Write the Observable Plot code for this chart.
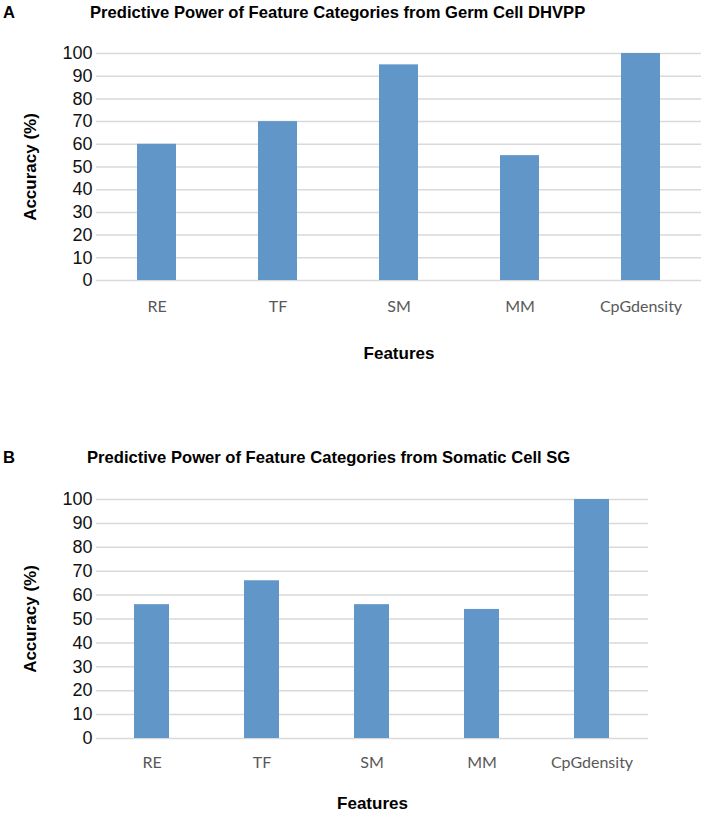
<!DOCTYPE html>
<html>
<head>
<meta charset="utf-8">
<script src="https://cdn.jsdelivr.net/npm/d3@7"></script>
<script src="https://cdn.jsdelivr.net/npm/@observablehq/plot@0.6"></script>
<style>
  html, body { margin: 0; padding: 0; background: #fff; }
  #root { position: relative; width: 701px; height: 814px; overflow: hidden; font-family: "Liberation Sans", Arial, sans-serif; background: #fff; }
  .panel { position: absolute; left: 0; z-index: 1; }
  .title { position: absolute; z-index: 2; font-weight: bold; font-size: 16.6px; line-height: 20px; color: #000; white-space: nowrap; }
</style>
</head>
<body>
<div id="root">
  <div id="panelA" class="panel" style="top:0px;"></div>
  <div id="panelB" class="panel" style="top:420px;"></div>
  <div class="title" style="left:3px;top:3px;">A</div>
  <div class="title" style="left:90px;top:3px;">Predictive Power of Feature Categories from Germ Cell DHVPP</div>
  <div class="title" style="left:3px;top:448px;">B</div>
  <div class="title" style="left:87px;top:448px;">Predictive Power of Feature Categories from Somatic Cell SG</div>
</div>
<script>
const features = ["RE", "TF", "SM", "MM", "CpGdensity"];
const accuracyA = [60, 70, 95, 55, 100];
const accuracyB = [56, 66, 56, 54, 100];
const yTicks = [0, 10, 20, 30, 40, 50, 60, 70, 80, 90, 100];
const xLabel = "Features";
const yLabel = "Accuracy (%)";

function panel(values, opts) {
  const data = features.map((f, i) => ({feature: f, value: values[i]}));
  return Plot.plot({
    width: 701,
    height: opts.height,
    marginTop: opts.marginTop,
    marginBottom: opts.marginBottom,
    marginLeft: 96,
    marginRight: opts.marginRight,
    style: {fontFamily: "'Liberation Sans', Arial, sans-serif", background: "transparent", overflow: "visible"},
    x: {domain: features, paddingInner: 0.68, paddingOuter: 0.34},
    y: {domain: [0, 100]},
    marks: [
      Plot.ruleY(yTicks, {stroke: "#d9d9d9", strokeWidth: 1.5}),
      Plot.barY(data, {x: "feature", y: "value", fill: "#6196c9"}),
      Plot.axisY({ticks: yTicks, tickSize: 0, tickPadding: 4, fontSize: 18, fill: "#111",
        label: yLabel, labelArrow: "none", labelAnchor: "center", labelOffset: 73}),
      Plot.axisX({tickSize: 0, tickPadding: opts.tickPad, fontSize: 16, fill: "#595959",
        fontFamily: "Lato, 'Open Sans', sans-serif",
        label: xLabel, labelArrow: "none", labelAnchor: "center", labelOffset: opts.labelOffset})
    ]
  });
}

const a = panel(accuracyA, {height: 400, marginTop: 53, marginBottom: 120, marginRight: 0, tickPad: 20, labelOffset: 78});
const b = panel(accuracyB, {height: 394, marginTop: 79, marginBottom: 76, marginRight: 53, tickPad: 18, labelOffset: 70});
document.getElementById("panelA").appendChild(a);
document.getElementById("panelB").appendChild(b);

// style axis labels (bold, dark)
for (const svg of [a, b]) {
  svg.querySelectorAll('g[aria-label="x-axis label"], g[aria-label="y-axis label"]').forEach(g => {
    g.setAttribute("font-weight", "bold");
    g.setAttribute("font-size", "17");
    g.setAttribute("fill", "#000");
    g.setAttribute("font-family", "'Liberation Sans', Arial, sans-serif");
  });
  svg.querySelectorAll('g[aria-label="x-axis label"] text, g[aria-label="y-axis label"] text').forEach(t => {
    t.textContent = t.textContent.replace(/\s*[↑→←↓]\s*/g, "").trim();
  });
}
</script>
</body>
</html>
